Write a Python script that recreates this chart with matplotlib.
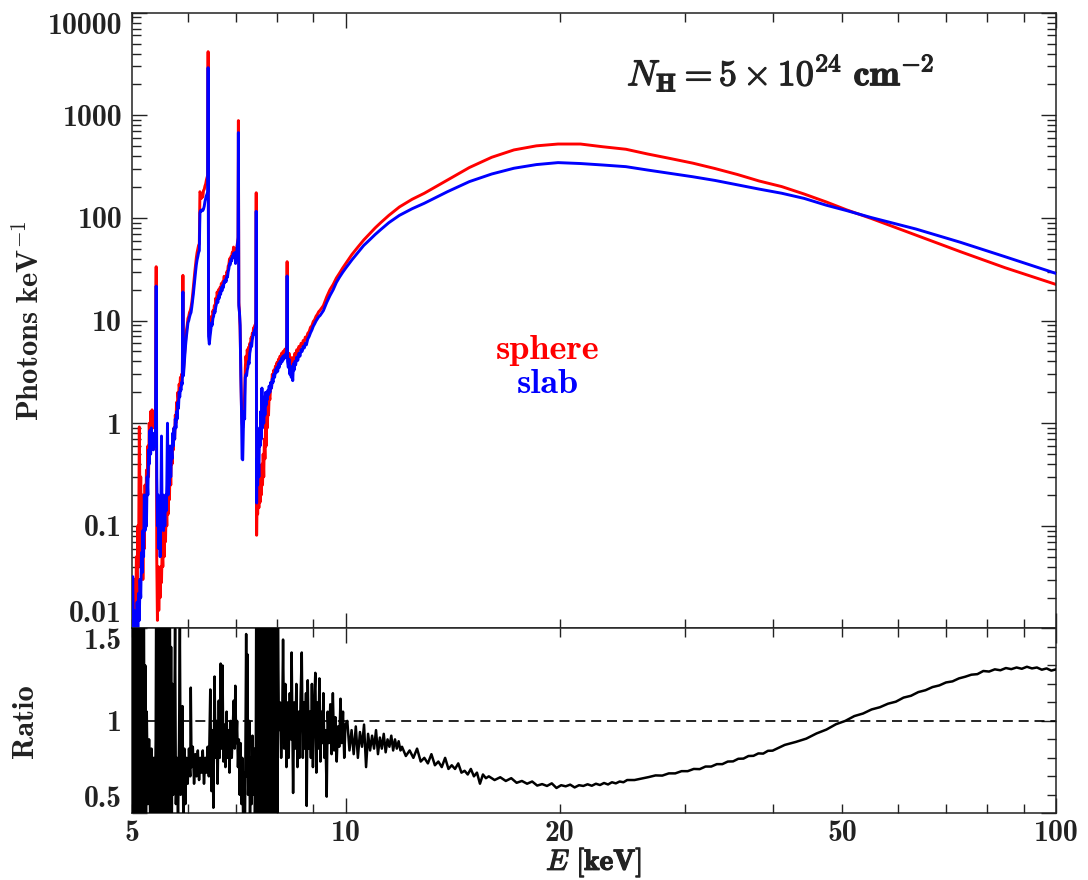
import matplotlib
matplotlib.use("Agg")
import matplotlib.pyplot as plt
import matplotlib.patheffects as pe
from matplotlib.ticker import FixedLocator, FixedFormatter, MultipleLocator, NullFormatter, LogLocator

plt.rcParams["font.family"] = ["cmb10", "DejaVu Serif"]
plt.rcParams["mathtext.fontset"] = "cm"
plt.rcParams["axes.unicode_minus"] = False

INK = "#222222"

# reprocessed spectra, photons per keV, same energy grid for both geometries
energy = [
    5.000, 5.012, 5.024, 5.036, 5.048, 5.060, 5.072, 5.084, 5.096, 5.108,
    5.120, 5.132, 5.144, 5.156, 5.168, 5.180, 5.192, 5.204, 5.216, 5.228,
    5.240, 5.252, 5.264, 5.276, 5.288, 5.300, 5.312, 5.324, 5.336, 5.348,
    5.360, 5.372, 5.384, 5.396,
    5.408, 5.418, 5.430, 5.442, 5.454, 5.466, 5.478, 5.490, 5.502, 5.514,
    5.526, 5.538, 5.550, 5.562, 5.574, 5.586, 5.598, 5.610, 5.622, 5.634,
    5.646, 5.658, 5.670, 5.682, 5.694, 5.706, 5.718, 5.730, 5.742, 5.754,
    5.766, 5.778, 5.790, 5.802, 5.814, 5.826, 5.838, 5.850, 5.862, 5.874,
    5.886,
    5.898, 5.908, 5.920, 5.935, 5.950, 5.965, 5.980, 5.995, 6.010, 6.025,
    6.040, 6.055, 6.070, 6.085, 6.100, 6.115, 6.130, 6.145, 6.160, 6.175,
    6.190, 6.205, 6.220, 6.232, 6.245, 6.260, 6.275, 6.290, 6.305, 6.320,
    6.335, 6.350, 6.365, 6.380, 6.392,
    6.400, 6.410, 6.425, 6.440, 6.455, 6.470, 6.485, 6.500, 6.515, 6.530,
    6.545, 6.560, 6.575, 6.590, 6.605, 6.620, 6.635, 6.650, 6.665, 6.680,
    6.695, 6.710, 6.725, 6.740, 6.755, 6.770, 6.785, 6.800, 6.815, 6.830,
    6.845, 6.860, 6.875, 6.890, 6.905, 6.920, 6.935, 6.950, 6.965, 6.980,
    6.995, 7.010, 7.025, 7.040, 7.052,
    7.060, 7.070, 7.085, 7.100, 7.115, 7.130, 7.145, 7.160, 7.175, 7.190,
    7.205, 7.220, 7.235, 7.250, 7.265, 7.280, 7.295, 7.310, 7.325, 7.340,
    7.355, 7.370, 7.385, 7.400, 7.415, 7.430, 7.445, 7.460, 7.472,
    7.480, 7.490, 7.500, 7.515, 7.530, 7.545, 7.560, 7.575, 7.590, 7.605,
    7.620, 7.635, 7.650, 7.665, 7.680, 7.695, 7.710, 7.725, 7.740, 7.755,
    7.770, 7.785, 7.800, 7.820, 7.840, 7.860, 7.880, 7.900, 7.920, 7.940,
    7.960, 7.980, 8.000, 8.020, 8.040, 8.060, 8.080, 8.100, 8.120, 8.140,
    8.160, 8.180, 8.200, 8.220, 8.240, 8.255,
    8.268, 8.280, 8.300, 8.320, 8.340, 8.360, 8.380, 8.400, 8.420, 8.440,
    8.460, 8.480, 8.500, 8.530, 8.560, 8.590, 8.620, 8.650, 8.680, 8.710,
    8.740, 8.770, 8.800, 8.840, 8.880, 8.920, 8.960, 9.000, 9.040, 9.080,
    9.120, 9.160, 9.200,
    9.30, 9.40, 9.50, 9.60, 9.70, 9.80, 9.90, 10.0, 10.2, 10.4,
    10.6, 10.8, 11.0, 11.2, 11.5, 11.9, 12.4, 12.9, 13.9, 14.93,
    16.05, 17.25, 18.55, 19.9, 21.4, 23.0, 24.8, 26.6, 28.6, 30.8,
    33.1, 35.6, 38.2, 41.1, 44.2, 47.5, 50.7, 54.9, 63.5, 73.3,
    84.7, 100.0,
]

sphere = [
    0.005, 0.006, 0.02, 0.006, 0.03, 0.012, 0.05, 0.02, 0.1, 0.04,
    0.92, 0.15, 0.3, 0.05, 0.2, 0.03, 0.12, 0.06, 0.25, 0.1,
    0.35, 0.2, 0.6, 0.3, 1.0, 0.6, 1.3, 0.8, 1.35, 1.0,
    1.25, 0.9, 1.2, 1.1,
    33.5, 0.05, 0.012, 0.04, 0.015, 0.03, 0.02, 0.04, 0.028, 0.06,
    0.04, 0.09, 0.05, 0.12, 0.07, 0.15, 0.1, 0.2, 0.13, 0.3,
    0.18, 0.45, 0.25, 0.55, 0.4, 0.7, 0.55, 0.9, 0.7, 1.2,
    1.0, 1.6, 1.3, 2.0, 1.7, 2.4, 2.1, 2.8, 2.5, 3.0,
    2.8,
    27.6, 3.2, 4.0, 5.2, 6.5, 8.0, 9.0, 10.5, 11.0, 12.0,
    12.5, 13.5, 15.0, 17.5, 21.0, 25.0, 30.0, 35.0, 41.0, 46.0,
    50.0, 54.0, 56.0, 180.0, 175.0, 155.0, 170.0, 160.0, 185.0, 190.0,
    205.0, 215.0, 235.0, 250.0, 260.0,
    4170.0, 8.0, 7.0, 8.0, 9.5, 11.0, 10.0, 12.5, 11.5, 14.0,
    13.0, 16.5, 15.0, 19.0, 17.0, 20.0, 18.5, 21.0, 20.0, 23.0,
    21.5, 24.0, 23.0, 27.0, 26.0, 27.0, 26.0, 30.0, 29.0, 34.0,
    35.0, 40.0, 38.0, 42.0, 41.0, 46.0, 44.0, 52.0, 47.0, 50.0,
    42.0, 45.0, 52.0, 58.0, 65.0,
    888.0, 15.0, 12.0, 8.0, 3.5, 1.5, 1.0, 0.9, 1.4, 1.2,
    2.0, 3.5, 4.5, 3.8, 5.2, 4.5, 5.5, 5.0, 6.0, 5.8,
    6.8, 6.5, 7.5, 7.2, 8.5, 8.2, 9.0, 8.8, 10.0,
    176.0, 0.081, 0.2, 0.13, 0.22, 0.15, 0.28, 0.17, 0.35, 0.2,
    0.4, 0.25, 0.5, 0.3, 0.7, 0.45, 1.0, 0.6, 1.3, 0.9,
    1.5, 1.2, 1.9, 1.7, 2.4, 2.2, 3.0, 2.7, 3.3, 3.0,
    3.6, 3.4, 3.9, 3.6, 4.2, 3.9, 4.5, 4.2, 4.8, 4.4,
    5.0, 4.7, 5.2, 4.9, 5.4, 5.2,
    37.5, 4.6, 4.2, 4.8, 3.8, 4.4, 3.6, 4.2, 3.4, 4.4,
    4.0, 4.8, 4.4, 5.2, 4.9, 5.6, 5.3, 6.0, 5.7, 6.4,
    6.2, 6.9, 6.6, 7.5, 7.8, 8.6, 8.9, 9.8, 10.2, 11.0,
    11.5, 12.2, 12.6,
    14.0, 17.0, 20.0, 22.5, 26.0, 29.0, 32.5, 36.0, 44.0, 52.0,
    61.0, 70.0, 80.0, 90.0, 106.0, 128.0, 152.0, 174.0, 234.0, 310.0,
    390.0, 460.0, 504.0, 525.0, 525.0, 494.0, 467.0, 420.0, 380.0, 342.0,
    303.0, 265.0, 229.0, 202.0, 171.0, 143.0, 120.0, 99.0, 68.0, 47.0,
    32.8, 22.5,
]

slab = [
    0.012, 0.032, 0.008, 0.015, 0.006, 0.012, 0.007, 0.018, 0.01, 0.022,
    0.012, 0.03, 0.02, 0.055, 0.035, 0.09, 0.05, 0.2, 0.09, 0.15,
    0.1, 0.3, 0.2, 0.55, 0.4, 0.85, 0.5, 0.9, 0.6, 0.8,
    0.55, 0.75, 0.6, 0.85,
    21.7, 0.3, 0.1, 0.2, 0.06, 0.15, 0.05, 0.12, 0.75, 0.1,
    0.2, 0.09, 0.17, 0.1, 0.2, 0.14, 0.25, 1.0, 0.2, 0.35,
    0.25, 0.6, 0.3, 0.55, 0.45, 0.8, 0.6, 0.9, 0.7, 1.1,
    0.9, 1.3, 1.1, 1.6, 1.4, 2.0, 1.8, 2.2, 2.1, 2.5,
    2.4,
    19.0, 2.9, 3.6, 4.6, 5.8, 7.0, 8.2, 9.5, 10.0, 10.8,
    11.5, 12.0, 13.5, 15.5, 18.0, 21.5, 26.0, 30.0, 35.0, 39.0,
    42.0, 46.0, 48.0, 112.0, 118.0, 116.0, 120.0, 118.0, 122.0, 130.0,
    145.0, 155.0, 165.0, 172.0, 180.0,
    2911.0, 7.0, 5.9, 7.0, 8.0, 9.5, 9.0, 10.5, 11.0, 12.5,
    12.0, 13.5, 14.5, 16.0, 15.0, 17.5, 16.5, 19.0, 18.0, 21.0,
    19.5, 22.0, 21.0, 24.0, 23.5, 25.0, 24.0, 27.0, 26.5, 30.0,
    32.0, 36.0, 35.0, 39.0, 38.0, 42.0, 41.0, 45.0, 43.0, 46.0,
    36.0, 42.0, 50.0, 56.0, 63.0,
    678.0, 14.0, 12.0, 9.0, 3.0, 1.45, 0.45, 0.44, 0.9, 1.3,
    1.1, 2.8, 3.0, 2.9, 3.3, 3.5, 4.0, 3.8, 4.8, 5.2,
    6.0, 5.6, 6.5, 7.0, 7.6, 7.4, 8.2, 8.0, 9.0,
    116.0, 0.167, 0.45, 0.25, 0.55, 0.3, 0.9, 0.6, 1.3, 0.7,
    2.2, 0.9, 1.6, 1.0, 1.8, 1.2, 2.0, 1.5, 1.9, 1.7,
    2.1, 1.9, 2.3, 2.0, 2.5, 2.2, 2.7, 2.5, 3.0, 2.8,
    3.3, 3.1, 3.5, 3.2, 3.8, 3.5, 4.0, 3.8, 4.3, 4.0,
    4.5, 4.2, 4.6, 4.4, 4.8, 4.7,
    27.2, 4.0, 3.5, 4.2, 3.0, 3.6, 2.8, 3.4, 2.6, 3.8,
    3.3, 4.0, 3.7, 4.4, 4.1, 4.8, 4.5, 5.2, 5.0, 5.6,
    5.4, 6.0, 5.8, 6.6, 7.0, 7.6, 8.1, 8.8, 9.3, 9.9,
    10.4, 10.9, 11.2,
    12.5, 15.0, 17.5, 20.0, 23.5, 26.5, 29.5, 32.5, 39.0, 46.0,
    54.0, 61.0, 69.0, 77.0, 90.0, 106.0, 123.0, 139.0, 180.0, 226.0,
    268.0, 305.0, 331.0, 346.0, 339.0, 328.0, 316.0, 293.0, 272.0, 252.0,
    232.0, 210.0, 191.0, 174.0, 155.0, 133.0, 118.0, 101.0, 78.0, 58.0,
    42.0, 28.8,
]

# slab / sphere ratio
ratio_energy = [
    5.004, 5.016, 5.028, 5.040, 5.052, 5.064, 5.076, 5.088, 5.100, 5.112,
    5.124, 5.136, 5.148, 5.160, 5.172, 5.184, 5.196, 5.208, 5.220, 5.232,
    5.245, 5.265, 5.285, 5.305, 5.325, 5.345, 5.365, 5.385, 5.400,
    5.412, 5.424, 5.436, 5.448, 5.460, 5.472, 5.484, 5.496, 5.508, 5.520,
    5.532, 5.544, 5.556, 5.568, 5.580, 5.592, 5.604, 5.616, 5.628, 5.640,
    5.652, 5.664, 5.676, 5.688, 5.700,
    5.715, 5.735, 5.750, 5.765, 5.785, 5.805, 5.825, 5.840, 5.855, 5.875,
    5.890, 5.905, 5.925, 5.945,
    5.965, 5.990, 6.015, 6.040, 6.050, 6.065, 6.090, 6.115, 6.140, 6.165,
    6.190, 6.215, 6.240, 6.265, 6.290, 6.315, 6.340, 6.365, 6.390, 6.415,
    6.445, 6.470, 6.490, 6.510, 6.535, 6.555, 6.575, 6.600, 6.625, 6.645,
    6.665, 6.685, 6.705, 6.725, 6.750, 6.770, 6.795, 6.815, 6.840, 6.860,
    6.885, 6.910, 6.930,
    6.955, 6.975, 6.990, 7.010, 7.030, 7.050, 7.070, 7.090, 7.110, 7.130,
    7.150, 7.170, 7.190, 7.210, 7.225, 7.240, 7.255, 7.270, 7.285, 7.300,
    7.315, 7.330, 7.350, 7.370, 7.390, 7.410, 7.430, 7.450, 7.470,
    7.485, 7.500, 7.515, 7.530, 7.545, 7.560, 7.575, 7.590, 7.605, 7.620,
    7.635, 7.650, 7.665, 7.680, 7.695, 7.710, 7.725, 7.740, 7.755, 7.770,
    7.785, 7.800, 7.815, 7.830, 7.845, 7.860, 7.875, 7.890, 7.905, 7.920,
    7.935, 7.950, 7.965, 7.980, 7.995, 8.010, 8.025,
    8.05, 8.08, 8.11, 8.14, 8.16, 8.19, 8.22, 8.25, 8.28, 8.31,
    8.34, 8.37, 8.39, 8.43, 8.46, 8.49, 8.52, 8.55, 8.58, 8.61,
    8.64, 8.67, 8.70, 8.73, 8.76, 8.79, 8.81, 8.84, 8.87, 8.90,
    8.93, 8.96, 8.99, 9.02, 9.06, 9.09, 9.12, 9.15, 9.18, 9.21,
    9.24, 9.27, 9.30, 9.33, 9.36, 9.40,
    9.43, 9.47, 9.51, 9.55, 9.59, 9.63, 9.67, 9.71, 9.75, 9.79,
    9.83, 9.87, 9.91, 9.95, 9.99,
    10.05, 10.12, 10.19, 10.26, 10.33, 10.40, 10.47, 10.54, 10.61, 10.68,
    10.75, 10.82, 10.89, 10.96, 11.03, 11.10, 11.17, 11.24, 11.31, 11.38,
    11.45, 11.52, 11.59, 11.66, 11.73, 11.80, 11.87, 11.94,
    12.00, 12.15, 12.30, 12.45, 12.60, 12.75, 12.90, 13.05, 13.20, 13.35,
    13.50, 13.65, 13.80, 13.95, 14.10, 14.25, 14.40, 14.55, 14.70, 14.85,
    15.00, 15.15, 15.30, 15.45, 15.60, 15.75, 15.90,
    16.2, 16.5, 16.8, 17.1, 17.4, 17.7, 18.0, 18.3, 18.6, 18.9,
    19.2, 19.5, 19.8, 20.1, 20.4, 20.7, 21.0, 21.3, 21.6, 21.9,
    22.2, 22.5, 22.8, 23.1, 23.4, 23.7, 24.0, 24.3, 24.6, 24.9,
    25.5, 26.1, 26.7, 27.3, 27.9, 28.5, 29.1, 29.7, 30.3, 30.9,
    31.5, 32.1, 32.7, 33.3, 33.9, 34.5, 35.1, 35.7, 36.3, 36.9,
    37.5, 38.1, 38.7, 39.3, 39.9,
    41.5, 43.0, 44.5, 46.0, 47.5, 49.0, 50.5, 52.0, 53.5, 55.0,
    56.5, 58.0, 59.5, 61.0, 62.5, 64.0, 65.5, 67.0, 68.5, 70.0,
    71.5, 73.0, 74.5, 76.0, 77.5, 79.0, 80.5, 82.0, 83.5, 85.0,
    86.5, 88.0, 89.5, 91.0, 92.5, 94.0, 95.5, 97.0, 98.5, 100.0,
]

ratio = [
    1.9, 0.3, 1.8, 0.25, 1.2, 0.3, 1.9, 0.4, 2.0, 0.3,
    1.7, 0.2, 1.9, 0.35, 1.5, 0.3, 1.8, 0.25, 1.3, 0.4,
    1.05, 0.55, 0.9, 0.45, 0.85, 0.35, 0.8, 0.5, 0.9,
    2.0, 0.2, 1.9, 0.3, 2.0, 0.2, 1.8, 0.3, 2.0, 0.25,
    1.9, 0.2, 1.7, 0.3, 2.0, 0.25, 1.8, 0.3, 1.6, 0.2,
    1.9, 0.4, 1.4, 0.3, 1.2,
    0.6, 0.95, 1.5, 0.55, 0.8, 0.45, 0.9, 1.5, 0.6, 0.85,
    1.08, 0.5, 0.85, 0.55,
    0.8, 0.66, 0.85, 0.7, 1.18, 0.75, 0.86, 0.66, 0.82, 0.7,
    0.84, 0.68, 0.8, 0.72, 0.84, 0.66, 0.8, 0.72, 0.86, 0.7,
    1.17, 0.62, 0.95, 0.53, 1.24, 0.8, 1.0, 0.66, 1.11, 0.8,
    1.31, 0.85, 1.3, 0.78, 0.98, 0.75, 1.05, 0.8, 0.95, 0.72,
    1.0, 0.8, 0.95,
    1.11, 0.85, 1.19, 0.88, 1.0, 0.75, 0.9, 0.6, 0.88, 0.55,
    0.8, 0.45, 0.72, 0.35, 0.9, 1.47, 0.7, 1.36, 0.6, 0.73,
    1.0, 0.42, 0.8, 0.55, 0.92, 0.6, 0.85, 0.5, 0.78,
    2.0, 0.2, 1.9, 0.3, 2.0, 0.2, 1.8, 0.3, 2.0, 0.25,
    1.9, 0.3, 2.0, 0.2, 1.8, 0.35, 2.0, 0.3, 1.9, 0.2,
    1.7, 0.3, 2.0, 0.4, 1.8, 0.25, 1.9, 0.3, 1.7, 0.35,
    1.6, 0.4, 1.8, 0.3, 1.5, 0.45, 1.6,
    0.95, 1.1, 0.8, 1.05, 1.44, 0.85, 1.2, 0.75, 1.1, 0.8,
    1.15, 0.9, 1.37, 0.61, 1.1, 0.85, 1.2, 0.75, 1.05, 0.8,
    1.15, 1.37, 0.8, 1.1, 0.85, 1.15, 0.54, 1.22, 0.85, 1.05,
    0.8, 1.2, 0.75, 1.05, 1.26, 0.72, 1.1, 0.85, 1.23, 0.78,
    1.05, 0.88, 1.15, 0.8, 0.95, 0.59,
    1.05, 0.88, 1.09, 0.82, 1.15, 0.84, 1.02, 0.78, 0.97, 0.86,
    1.12, 0.88, 1.05, 0.8, 0.98,
    1.0, 0.84, 0.95, 0.82, 0.97, 0.8, 0.94, 0.86, 0.98, 0.75,
    0.93, 0.84, 0.92, 0.85, 0.95, 0.82, 0.91, 0.85, 0.93, 0.83,
    0.9, 0.86, 0.92, 0.84, 0.9, 0.85, 0.89, 0.84,
    0.86, 0.81, 0.84, 0.80, 0.85, 0.78, 0.80, 0.77, 0.82, 0.76,
    0.78, 0.75, 0.80, 0.74, 0.76, 0.74, 0.77, 0.72, 0.73, 0.71,
    0.74, 0.70, 0.72, 0.66, 0.71, 0.69, 0.70,
    0.68, 0.695, 0.675, 0.69, 0.665, 0.675, 0.66, 0.672, 0.65, 0.658,
    0.648, 0.662, 0.637, 0.652, 0.646, 0.655, 0.64, 0.652, 0.648, 0.657,
    0.649, 0.66, 0.653, 0.664, 0.656, 0.668, 0.662, 0.672, 0.668, 0.68,
    0.68, 0.688, 0.696, 0.705, 0.704, 0.716, 0.716, 0.728, 0.728, 0.74,
    0.739, 0.753, 0.753, 0.766, 0.766, 0.78, 0.781, 0.795, 0.796, 0.81,
    0.811, 0.824, 0.823, 0.838, 0.839,
    0.87, 0.886, 0.904, 0.932, 0.953, 0.982, 1.0, 1.026, 1.04, 1.062,
    1.074, 1.093, 1.104, 1.126, 1.136, 1.156, 1.166, 1.183, 1.192, 1.208,
    1.214, 1.23, 1.239, 1.25, 1.253, 1.27, 1.267, 1.279, 1.274, 1.286,
    1.28, 1.289, 1.282, 1.293, 1.284, 1.289, 1.277, 1.284, 1.272, 1.279,
]

ytick_top = [0.01, 0.1, 1, 10, 100, 1000, 10000]
ytick_top_labels = ["0.01", "0.1", "1", "10", "100", "1000", "10000"]
ytick_bot = [0.5, 1.0, 1.5]
ytick_bot_labels = ["0.5", "1", "1.5"]
xtick_major = [10, 100]
xtick_minor = [5, 6, 7, 8, 9, 20, 30, 40, 50, 60, 70, 80, 90]
xtick_minor_labels = ["5", "", "", "", "", "20", "", "", "50", "", "", "", ""]

fig = plt.figure(figsize=(10.88, 8.8), dpi=100)
ax1 = fig.add_axes([0.1213, 0.2858, 0.8493, 0.6998])
ax2 = fig.add_axes([0.1213, 0.0758, 0.8493, 0.2100])

ax1.plot(energy, sphere, color="red", lw=2.1, zorder=2)
ax1.plot(energy, slab, color="blue", lw=2.1, zorder=3)
ax2.plot(ratio_energy, ratio, color="black", lw=1.8, zorder=3)
ax2.axhline(1.0, color="black", lw=1.2, ls=(0, (6, 3.5)), zorder=2)

for ax in (ax1, ax2):
    ax.set_xscale("log")
    ax.set_xlim(5, 100)
    ax.xaxis.set_major_locator(FixedLocator(xtick_major))
    ax.xaxis.set_minor_locator(FixedLocator(xtick_minor))
    ax.tick_params(which="both", direction="in", top=True, right=True,
                   width=1.0, color=INK, labelcolor=INK, labelsize=21.5, pad=7)
    ax.tick_params(axis="x", which="both", pad=5)
    ax.tick_params(which="major", length=11)
    ax.tick_params(which="minor", length=6.5)
    for sp in ax.spines.values():
        sp.set_linewidth(1.1)
        sp.set_color(INK)

ax1.xaxis.set_major_formatter(NullFormatter())
ax1.xaxis.set_minor_formatter(NullFormatter())
ax2.xaxis.set_major_formatter(FixedFormatter(["10", "100"]))
ax2.xaxis.set_minor_formatter(FixedFormatter(xtick_minor_labels))

ax1.set_yscale("log")
ax1.set_ylim(0.01, 10000)
ax1.yaxis.set_major_locator(FixedLocator(ytick_top))
ax1.yaxis.set_major_formatter(FixedFormatter(ytick_top_labels))
ax1.yaxis.set_minor_locator(LogLocator(base=10, subs=range(2, 10), numticks=20))
ax1.yaxis.set_minor_formatter(NullFormatter())

ax2.set_ylim(0.5, 1.5)
ax2.yaxis.set_major_locator(FixedLocator(ytick_bot))
ax2.yaxis.set_major_formatter(FixedFormatter(ytick_bot_labels))
ax2.yaxis.set_minor_locator(MultipleLocator(0.1))

# keep the end labels inside the panel height
for ax in (ax1, ax2):
    ticks = ax.yaxis.get_major_ticks()
    ticks[0].label1.set_va("bottom")
    ticks[-1].label1.set_va("top")

bold = [pe.withStroke(linewidth=0.9, foreground=INK)]

ax1.set_ylabel(r"$\mathbf{Photons\ keV^{-1}}$", fontsize=22, color=INK)
ax1.yaxis.set_label_coords(-0.094, 0.5)
ax2.set_ylabel("Ratio", fontsize=22, color=INK)
ax2.yaxis.set_label_coords(-0.101, 0.5)
ax2.set_xlabel(r"$E\ \mathbf{[keV]}$", fontsize=21, color=INK, path_effects=bold)
ax2.xaxis.set_label_coords(0.5, -0.265)
ax2.xaxis.label.set_va("center")

ax1.text(0.45, 0.452, "sphere", color="red", fontsize=26,
         ha="center", va="center", transform=ax1.transAxes)
ax1.text(0.45, 0.397, "slab", color="blue", fontsize=26,
         ha="center", va="center", transform=ax1.transAxes)
ax1.text(0.702, 0.902,
         r"$N_{\mathbf{H}} = \mathbf{5} \times \mathbf{10}^{\mathbf{24}}\ \mathbf{cm}^{-\mathbf{2}}$",
         fontsize=26, color=INK, ha="center", va="center",
         transform=ax1.transAxes, path_effects=bold)

fig.savefig("out.png", dpi=100)
